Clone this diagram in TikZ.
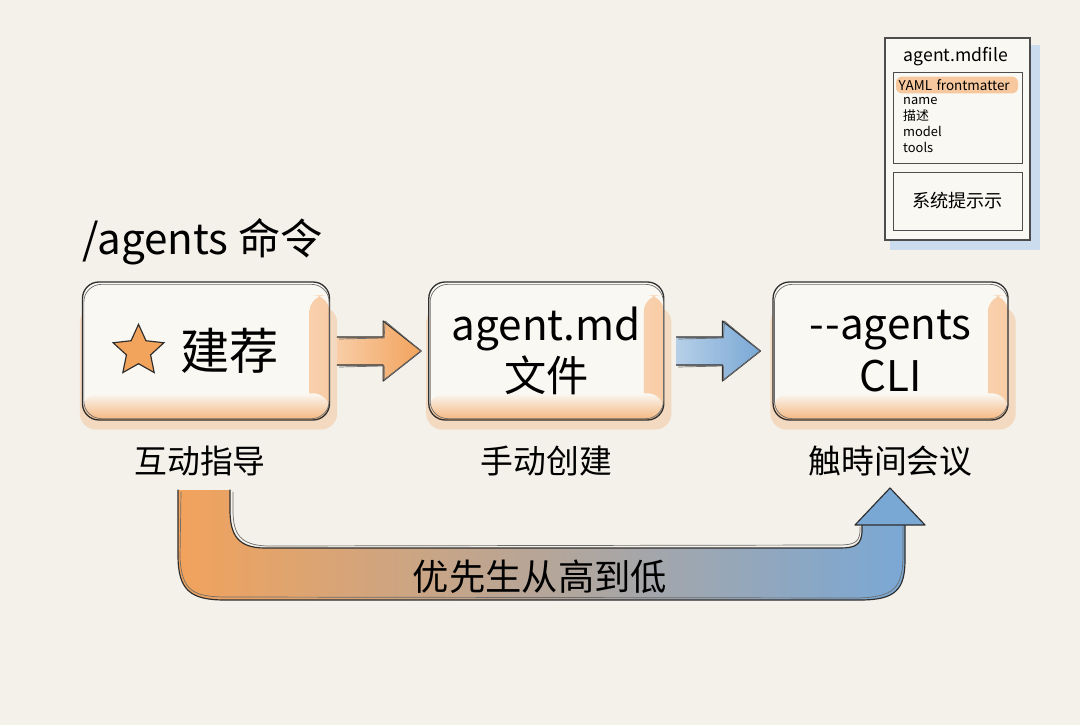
\documentclass[tikz,border=0pt]{standalone}
\usepackage{fontspec}
\setmainfont{Noto Sans CJK SC}
\usepackage{xcolor}
\usetikzlibrary{shapes.geometric, arrows.meta, positioning, calc, backgrounds}
\definecolor{papier}{HTML}{F4F1EA}
\definecolor{kapian}{HTML}{FAF8F3}
\definecolor{cheng}{HTML}{F2A35C}
\definecolor{lan}{HTML}{7AA8D5}
\definecolor{mo}{HTML}{2E2E2E}
\colorlet{zhong}{cheng!45!lan!65!papier}
\tikzset{
    kuang/.style    = {draw=mo, fill=kapian, rounded corners=14pt, line width=1.1pt,
                       minimum width=70.5mm, minimum height=41.4mm, align=center,
                       font=\fontsize{36}{44}\selectfont,
                       path picture={
                         \shade[left color=kapian, right color=cheng!55]
                           ([xshift=-6mm, yshift=-4mm]path picture bounding box.north east) rectangle (path picture bounding box.south east);
                         \shade[top color=kapian, bottom color=cheng!80]
                           ([yshift=8mm]path picture bounding box.south west) rectangle (path picture bounding box.south east);
                       }},
    xing/.style     = {star, star points=5, star point ratio=2.1, minimum size=16mm, inner sep=0pt,
                       draw=mo, fill=cheng, line width=1pt},
    biaoqian/.style = {font=\fontsize{28}{32}\selectfont, inner sep=0pt},
    biaoti/.style   = {font=\fontsize{36}{40}\selectfont, inner sep=0pt},
    xian/.style     = {draw=mo, line width=1pt, line cap=round, line join=round},
    xianqian/.style = {draw=mo!70, line width=0.6pt, line cap=round, line join=round},
    zhi/.style      = {draw=mo!85, fill=kapian, line width=0.9pt, minimum width=43.5mm, minimum height=60.6mm},
    ge/.style       = {draw=mo!85, line width=0.8pt, minimum width=38.7mm, inner sep=0pt},
    gaoliang/.style = {fill=cheng!60, rounded corners=5pt, minimum width=36.6mm, minimum height=5mm,
                       text width=35mm, align=left, inner sep=1pt, font=\fontsize{11.5}{13}\selectfont},
}

\begin{document}
\begin{tikzpicture}[x=0.3mm, y=-0.3mm]
    \useasboundingbox (0,0) rectangle (1080,725);

    % the three ways
    \node[kuang, minimum width=74.1mm, font=\fontsize{42}{44}\selectfont] (jianjian) at (206,351) {\hspace*{14mm}建荐};
    \node[xing] (stern) at ([xshift=17mm]jianjian.west) {};
    \node[kuang, right=29.4mm of jianjian] (wenjian) {agent.md\\文件};
    \node[kuang, right=32.4mm of wenjian] (cli) {-\kern1pt-agents\\CLI};

    \node[biaoti, anchor=base west] (mingling) at ([yshift=8.1mm]jianjian.north west) {/agents 命令};

    \node[biaoqian, below=7.6mm of jianjian, xshift=-1.8mm] (zhidao) {互动指导};
    \node[biaoqian, below=7.6mm of wenjian] (shoudong) {手动创建};
    \node[biaoqian, below=7.6mm of cli] (chushi) {触時间会议};

    % fat arrows between the boxes
    \foreach \a/\b/\c in {jianjian/wenjian/cheng, wenjian/cli/lan} {
        \coordinate (m) at ($(\a.east)!0.5!(\b.west)$);
        \fill[left color=\c!55, right color=\c] ($(m)+(-42,-14)$) -- ++(46,0) -- ++(0,-16) -- ++(38,30)
            -- ++(-38,30) -- ++(0,-16) -- ++(-46,0) -- cycle;
        \draw[xian] ($(m)+(-42,-14)$) -- ++(46,0) -- ++(0,-16) -- ++(38,30)
            -- ++(-38,30) -- ++(0,-16) -- ++(-46,0);
        \draw[xianqian] ($(m)+(-40,-12)$) -- ++(45,-1) -- ++(1,-17) -- ++(36,30)
            -- ++(-37,29) -- ++(0,-14) -- ++(-45,1);
    }

    % sketchy second stroke round the boxes
    \foreach \k in {jianjian, wenjian, cli}
        \draw[xianqian, rounded corners=15pt] ($(\k.south west)+(2,-2)$) rectangle ($(\k.north east)+(-1,3)$);

    % priority arrow
    \coordinate (ustart) at (204,490);
    \coordinate (uende) at (890,488);
    \begin{scope}[shift={(ustart)}]
        \shade[left color=cheng, middle color=zhong, right color=lan]
            (-26,0) -- (-26,65) .. controls (-26,100) and (-14,110) .. (21,110) -- (656,110)
            .. controls (691,110) and (701,100) .. (701,70) -- (701,35) -- (658,35) -- (658,40)
            .. controls (658,55) and (651,58) .. (636,58) -- (61,58)
            .. controls (34,58) and (26,45) .. (26,20) -- (26,0) -- cycle;
        \draw[xian] (-26,0) -- (-26,65) .. controls (-26,100) and (-14,110) .. (21,110) -- (656,110)
            .. controls (691,110) and (701,100) .. (701,70) -- (701,35);
        \draw[xianqian] (-23,2) -- (-24,68) .. controls (-22,102) and (-10,107) .. (24,107) -- (654,108)
            .. controls (690,107) and (698,98) .. (699,68) -- (699,36);
        \draw[xian] (658,35) -- (658,40) .. controls (658,55) and (651,58) .. (636,58) -- (61,58)
            .. controls (34,58) and (26,45) .. (26,20) -- (26,0);
        \draw[xianqian] (656,37) -- (656,42) .. controls (655,53) and (649,55) .. (634,55) -- (63,56)
            .. controls (36,55) and (29,44) .. (29,20) -- (29,2);
        \filldraw[fill=lan, xian] (651,35) -- (uende) -- (721,35) -- cycle;
        \node[font=\fontsize{31}{34}\selectfont, inner sep=0pt] (youxian) at (336,87) {优先生从高到低};
    \end{scope}

    % the file card
    \node[zhi] (md) at (957.5,139) {};
    \node[font=\fontsize{15}{17}\selectfont, inner sep=0pt] (mdtitel) at (956,57) {agent.mdfile};
    \node[ge, minimum height=27.3mm] (kopf) at (957.5,117.5) {};
    \node[gaoliang] (yaml) at (957,85) {YAML frontmatter};
    \node[anchor=north west, align=left, inner sep=0pt, font=\fontsize{11}{13.8}\selectfont] (felder)
        at (903,97) {name\\描述\\model\\tools};
    \node[ge, minimum height=17.4mm, font=\fontsize{15.5}{17}\selectfont] (prompt) at (957.5,201) {系统提示示};

    \begin{scope}[on background layer]
        \fill[papier] (0,0) rectangle (1080,725);
        \fill[lan!40] ($(md.south west)+(6,9)$) rectangle ($(md.north east)+(9,8)$);
        \foreach \k in {jianjian, wenjian, cli}
            \fill[cheng, opacity=.3, rounded corners=14pt] ($(\k.south west)+(-2,9)$) rectangle ($(\k.north east)+(7,25)$);
    \end{scope}
\end{tikzpicture}
\end{document}
